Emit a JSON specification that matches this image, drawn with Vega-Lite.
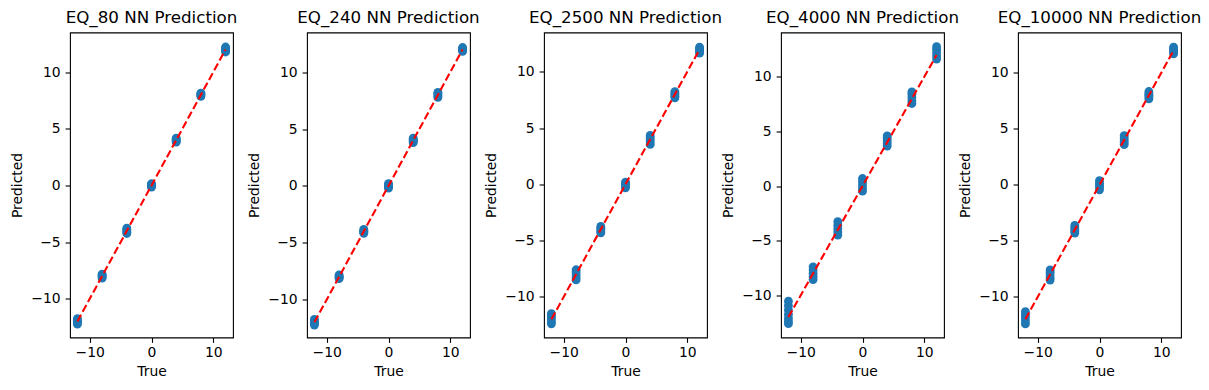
{
  "$schema": "https://vega.github.io/schema/vega-lite/v6.json",
  "background": "white",
  "padding": {"left": 10, "top": 9.5, "right": 5, "bottom": 10},
  "bounds": "flush",
  "spacing": 74,
  "datasets": {
    "pts": [
      {"g":"EQ_80","t":-12,"p":-11.76},{"g":"EQ_80","t":-12,"p":-11.9},{"g":"EQ_80","t":-12,"p":-12.0},{"g":"EQ_80","t":-12,"p":-12.1},{"g":"EQ_80","t":-12,"p":-12.24},
      {"g":"EQ_80","t":-8,"p":-7.82},{"g":"EQ_80","t":-8,"p":-7.92},{"g":"EQ_80","t":-8,"p":-8.0},{"g":"EQ_80","t":-8,"p":-8.08},{"g":"EQ_80","t":-8,"p":-8.18},
      {"g":"EQ_80","t":-4,"p":-3.76},{"g":"EQ_80","t":-4,"p":-3.9},{"g":"EQ_80","t":-4,"p":-4.0},{"g":"EQ_80","t":-4,"p":-4.12},{"g":"EQ_80","t":-4,"p":-4.24},
      {"g":"EQ_80","t":0,"p":-0.15},{"g":"EQ_80","t":0,"p":-0.05},{"g":"EQ_80","t":0,"p":0.03},{"g":"EQ_80","t":0,"p":0.1},{"g":"EQ_80","t":0,"p":0.15},
      {"g":"EQ_80","t":4,"p":3.83},{"g":"EQ_80","t":4,"p":3.92},{"g":"EQ_80","t":4,"p":4.0},{"g":"EQ_80","t":4,"p":4.1},{"g":"EQ_80","t":4,"p":4.17},
      {"g":"EQ_80","t":8,"p":7.86},{"g":"EQ_80","t":8,"p":7.94},{"g":"EQ_80","t":8,"p":8.02},{"g":"EQ_80","t":8,"p":8.1},{"g":"EQ_80","t":8,"p":8.15},
      {"g":"EQ_80","t":12,"p":11.78},{"g":"EQ_80","t":12,"p":11.9},{"g":"EQ_80","t":12,"p":12.0},{"g":"EQ_80","t":12,"p":12.1},{"g":"EQ_80","t":12,"p":12.22},

      {"g":"EQ_240","t":-12,"p":-11.75},{"g":"EQ_240","t":-12,"p":-11.88},{"g":"EQ_240","t":-12,"p":-12.0},{"g":"EQ_240","t":-12,"p":-12.12},{"g":"EQ_240","t":-12,"p":-12.25},
      {"g":"EQ_240","t":-8,"p":-7.84},{"g":"EQ_240","t":-8,"p":-7.93},{"g":"EQ_240","t":-8,"p":-8.0},{"g":"EQ_240","t":-8,"p":-8.09},{"g":"EQ_240","t":-8,"p":-8.16},
      {"g":"EQ_240","t":-4,"p":-3.83},{"g":"EQ_240","t":-4,"p":-3.92},{"g":"EQ_240","t":-4,"p":-4.0},{"g":"EQ_240","t":-4,"p":-4.08},{"g":"EQ_240","t":-4,"p":-4.17},
      {"g":"EQ_240","t":0,"p":-0.2},{"g":"EQ_240","t":0,"p":-0.08},{"g":"EQ_240","t":0,"p":0.0},{"g":"EQ_240","t":0,"p":0.1},{"g":"EQ_240","t":0,"p":0.2},
      {"g":"EQ_240","t":4,"p":3.8},{"g":"EQ_240","t":4,"p":3.9},{"g":"EQ_240","t":4,"p":4.0},{"g":"EQ_240","t":4,"p":4.1},{"g":"EQ_240","t":4,"p":4.2},
      {"g":"EQ_240","t":8,"p":7.78},{"g":"EQ_240","t":8,"p":7.9},{"g":"EQ_240","t":8,"p":8.0},{"g":"EQ_240","t":8,"p":8.12},{"g":"EQ_240","t":8,"p":8.23},
      {"g":"EQ_240","t":12,"p":11.83},{"g":"EQ_240","t":12,"p":11.92},{"g":"EQ_240","t":12,"p":12.0},{"g":"EQ_240","t":12,"p":12.08},{"g":"EQ_240","t":12,"p":12.17},

      {"g":"EQ_2500","t":-12,"p":-11.5},{"g":"EQ_2500","t":-12,"p":-11.75},{"g":"EQ_2500","t":-12,"p":-11.95},{"g":"EQ_2500","t":-12,"p":-12.2},{"g":"EQ_2500","t":-12,"p":-12.4},
      {"g":"EQ_2500","t":-8,"p":-7.6},{"g":"EQ_2500","t":-8,"p":-7.8},{"g":"EQ_2500","t":-8,"p":-8.05},{"g":"EQ_2500","t":-8,"p":-8.3},{"g":"EQ_2500","t":-8,"p":-8.5},
      {"g":"EQ_2500","t":-4,"p":-3.75},{"g":"EQ_2500","t":-4,"p":-3.9},{"g":"EQ_2500","t":-4,"p":-4.05},{"g":"EQ_2500","t":-4,"p":-4.2},{"g":"EQ_2500","t":-4,"p":-4.31},
      {"g":"EQ_2500","t":0,"p":-0.31},{"g":"EQ_2500","t":0,"p":-0.15},{"g":"EQ_2500","t":0,"p":-0.05},{"g":"EQ_2500","t":0,"p":0.07},{"g":"EQ_2500","t":0,"p":0.19},
      {"g":"EQ_2500","t":4,"p":3.54},{"g":"EQ_2500","t":4,"p":3.75},{"g":"EQ_2500","t":4,"p":3.95},{"g":"EQ_2500","t":4,"p":4.15},{"g":"EQ_2500","t":4,"p":4.34},
      {"g":"EQ_2500","t":8,"p":7.68},{"g":"EQ_2500","t":8,"p":7.82},{"g":"EQ_2500","t":8,"p":7.95},{"g":"EQ_2500","t":8,"p":8.1},{"g":"EQ_2500","t":8,"p":8.24},
      {"g":"EQ_2500","t":12,"p":11.65},{"g":"EQ_2500","t":12,"p":11.8},{"g":"EQ_2500","t":12,"p":11.92},{"g":"EQ_2500","t":12,"p":12.05},{"g":"EQ_2500","t":12,"p":12.19},

      {"g":"EQ_4000","t":-12,"p":-10.55},{"g":"EQ_4000","t":-12,"p":-10.95},{"g":"EQ_4000","t":-12,"p":-11.35},{"g":"EQ_4000","t":-12,"p":-11.75},{"g":"EQ_4000","t":-12,"p":-12.1},{"g":"EQ_4000","t":-12,"p":-12.4},{"g":"EQ_4000","t":-12,"p":-12.6},
      {"g":"EQ_4000","t":-8,"p":-7.4},{"g":"EQ_4000","t":-8,"p":-7.7},{"g":"EQ_4000","t":-8,"p":-8.0},{"g":"EQ_4000","t":-8,"p":-8.3},{"g":"EQ_4000","t":-8,"p":-8.56},
      {"g":"EQ_4000","t":-4,"p":-3.27},{"g":"EQ_4000","t":-4,"p":-3.6},{"g":"EQ_4000","t":-4,"p":-3.9},{"g":"EQ_4000","t":-4,"p":-4.2},{"g":"EQ_4000","t":-4,"p":-4.49},
      {"g":"EQ_4000","t":0,"p":-0.47},{"g":"EQ_4000","t":0,"p":-0.2},{"g":"EQ_4000","t":0,"p":0.1},{"g":"EQ_4000","t":0,"p":0.4},{"g":"EQ_4000","t":0,"p":0.69},
      {"g":"EQ_4000","t":4,"p":3.66},{"g":"EQ_4000","t":4,"p":3.9},{"g":"EQ_4000","t":4,"p":4.15},{"g":"EQ_4000","t":4,"p":4.4},{"g":"EQ_4000","t":4,"p":4.6},
      {"g":"EQ_4000","t":8,"p":7.56},{"g":"EQ_4000","t":8,"p":7.8},{"g":"EQ_4000","t":8,"p":8.1},{"g":"EQ_4000","t":8,"p":8.4},{"g":"EQ_4000","t":8,"p":8.63},
      {"g":"EQ_4000","t":12,"p":11.63},{"g":"EQ_4000","t":12,"p":11.9},{"g":"EQ_4000","t":12,"p":12.2},{"g":"EQ_4000","t":12,"p":12.5},{"g":"EQ_4000","t":12,"p":12.76},

      {"g":"EQ_10000","t":-12,"p":-11.32},{"g":"EQ_10000","t":-12,"p":-11.6},{"g":"EQ_10000","t":-12,"p":-11.85},{"g":"EQ_10000","t":-12,"p":-12.15},{"g":"EQ_10000","t":-12,"p":-12.42},
      {"g":"EQ_10000","t":-8,"p":-7.6},{"g":"EQ_10000","t":-8,"p":-7.8},{"g":"EQ_10000","t":-8,"p":-8.05},{"g":"EQ_10000","t":-8,"p":-8.3},{"g":"EQ_10000","t":-8,"p":-8.5},
      {"g":"EQ_10000","t":-4,"p":-3.63},{"g":"EQ_10000","t":-4,"p":-3.8},{"g":"EQ_10000","t":-4,"p":-3.97},{"g":"EQ_10000","t":-4,"p":-4.15},{"g":"EQ_10000","t":-4,"p":-4.31},
      {"g":"EQ_10000","t":0,"p":-0.45},{"g":"EQ_10000","t":0,"p":-0.2},{"g":"EQ_10000","t":0,"p":-0.04},{"g":"EQ_10000","t":0,"p":0.15},{"g":"EQ_10000","t":0,"p":0.37},
      {"g":"EQ_10000","t":4,"p":3.6},{"g":"EQ_10000","t":4,"p":3.8},{"g":"EQ_10000","t":4,"p":4.0},{"g":"EQ_10000","t":4,"p":4.2},{"g":"EQ_10000","t":4,"p":4.4},
      {"g":"EQ_10000","t":8,"p":7.68},{"g":"EQ_10000","t":8,"p":7.85},{"g":"EQ_10000","t":8,"p":8.0},{"g":"EQ_10000","t":8,"p":8.15},{"g":"EQ_10000","t":8,"p":8.33},
      {"g":"EQ_10000","t":12,"p":11.7},{"g":"EQ_10000","t":12,"p":11.85},{"g":"EQ_10000","t":12,"p":12.0},{"g":"EQ_10000","t":12,"p":12.15},{"g":"EQ_10000","t":12,"p":12.3}
    ],
    "diag": [{"t":-12,"p":-12},{"t":12,"p":12}]
  },
  "config": {
    "view": {"stroke": "black", "strokeWidth": 1.1},
    "axis": {"grid": false, "domain": false, "tickColor": "black", "tickSize": 4.9, "tickWidth": 1.1, "labelFont": "DejaVu Sans", "labelFontSize": 13.9, "labelColor": "black", "titleFont": "DejaVu Sans", "titleFontSize": 13.9, "titleFontWeight": "normal", "titleColor": "black"},
    "axisX": {"labelPadding": 3.5, "titlePadding": 5},
    "axisY": {"labelPadding": 4.9, "titlePadding": 6},
    "title": {"font": "DejaVu Sans", "fontSize": 16.7, "fontWeight": "normal", "color": "black", "anchor": "middle", "frame": "group", "baseline": "alphabetic", "offset": 5.5}
  },
  "hconcat": [
    {"width": 163, "height": 305, "title": "EQ_80 NN Prediction",
     "layer": [
      {"data": {"name": "pts"}, "transform": [{"filter": "datum.g == 'EQ_80'"}],
       "mark": {"type": "point", "filled": true, "shape": "circle", "size": 78, "color": "#1f77b4", "opacity": 1},
       "encoding": {
         "x": {"field": "t", "type": "quantitative", "title": "True", "scale": {"domain": [-13.2, 13.2], "nice": false, "zero": false}, "axis": {"values": [-10, 0, 10]}},
         "y": {"field": "p", "type": "quantitative", "title": "Predicted", "scale": {"domain": [-13.42, 13.5], "nice": false, "zero": false}, "axis": {"values": [-10, -5, 0, 5, 10]}}}},
      {"data": {"name": "diag"}, "mark": {"type": "line", "color": "red", "strokeDash": [7.7, 3.3], "strokeWidth": 2.1},
       "encoding": {"x": {"field": "t", "type": "quantitative"}, "y": {"field": "p", "type": "quantitative"}}}
     ]},
    {"width": 163, "height": 305, "title": "EQ_240 NN Prediction",
     "layer": [
      {"data": {"name": "pts"}, "transform": [{"filter": "datum.g == 'EQ_240'"}],
       "mark": {"type": "point", "filled": true, "shape": "circle", "size": 78, "color": "#1f77b4", "opacity": 1},
       "encoding": {
         "x": {"field": "t", "type": "quantitative", "title": "True", "scale": {"domain": [-13.2, 13.2], "nice": false, "zero": false}, "axis": {"values": [-10, 0, 10]}},
         "y": {"field": "p", "type": "quantitative", "title": "Predicted", "scale": {"domain": [-13.34, 13.49], "nice": false, "zero": false}, "axis": {"values": [-10, -5, 0, 5, 10]}}}},
      {"data": {"name": "diag"}, "mark": {"type": "line", "color": "red", "strokeDash": [7.7, 3.3], "strokeWidth": 2.1},
       "encoding": {"x": {"field": "t", "type": "quantitative"}, "y": {"field": "p", "type": "quantitative"}}}
     ]},
    {"width": 163, "height": 305, "title": "EQ_2500 NN Prediction",
     "layer": [
      {"data": {"name": "pts"}, "transform": [{"filter": "datum.g == 'EQ_2500'"}],
       "mark": {"type": "point", "filled": true, "shape": "circle", "size": 78, "color": "#1f77b4", "opacity": 1},
       "encoding": {
         "x": {"field": "t", "type": "quantitative", "title": "True", "scale": {"domain": [-13.2, 13.2], "nice": false, "zero": false}, "axis": {"values": [-10, 0, 10]}},
         "y": {"field": "p", "type": "quantitative", "title": "Predicted", "scale": {"domain": [-13.62, 13.49], "nice": false, "zero": false}, "axis": {"values": [-10, -5, 0, 5, 10]}}}},
      {"data": {"name": "diag"}, "mark": {"type": "line", "color": "red", "strokeDash": [7.7, 3.3], "strokeWidth": 2.1},
       "encoding": {"x": {"field": "t", "type": "quantitative"}, "y": {"field": "p", "type": "quantitative"}}}
     ]},
    {"width": 163, "height": 305, "title": "EQ_4000 NN Prediction",
     "layer": [
      {"data": {"name": "pts"}, "transform": [{"filter": "datum.g == 'EQ_4000'"}],
       "mark": {"type": "point", "filled": true, "shape": "circle", "size": 78, "color": "#1f77b4", "opacity": 1},
       "encoding": {
         "x": {"field": "t", "type": "quantitative", "title": "True", "scale": {"domain": [-13.2, 13.2], "nice": false, "zero": false}, "axis": {"values": [-10, 0, 10]}},
         "y": {"field": "p", "type": "quantitative", "title": "Predicted", "scale": {"domain": [-13.87, 14.06], "nice": false, "zero": false}, "axis": {"values": [-10, -5, 0, 5, 10]}}}},
      {"data": {"name": "diag"}, "mark": {"type": "line", "color": "red", "strokeDash": [7.7, 3.3], "strokeWidth": 2.1},
       "encoding": {"x": {"field": "t", "type": "quantitative"}, "y": {"field": "p", "type": "quantitative"}}}
     ]},
    {"width": 163, "height": 305, "title": "EQ_10000 NN Prediction",
     "layer": [
      {"data": {"name": "pts"}, "transform": [{"filter": "datum.g == 'EQ_10000'"}],
       "mark": {"type": "point", "filled": true, "shape": "circle", "size": 78, "color": "#1f77b4", "opacity": 1},
       "encoding": {
         "x": {"field": "t", "type": "quantitative", "title": "True", "scale": {"domain": [-13.2, 13.2], "nice": false, "zero": false}, "axis": {"values": [-10, 0, 10]}},
         "y": {"field": "p", "type": "quantitative", "title": "Predicted", "scale": {"domain": [-13.63, 13.6], "nice": false, "zero": false}, "axis": {"values": [-10, -5, 0, 5, 10]}}}},
      {"data": {"name": "diag"}, "mark": {"type": "line", "color": "red", "strokeDash": [7.7, 3.3], "strokeWidth": 2.1},
       "encoding": {"x": {"field": "t", "type": "quantitative"}, "y": {"field": "p", "type": "quantitative"}}}
     ]}
  ]
}
